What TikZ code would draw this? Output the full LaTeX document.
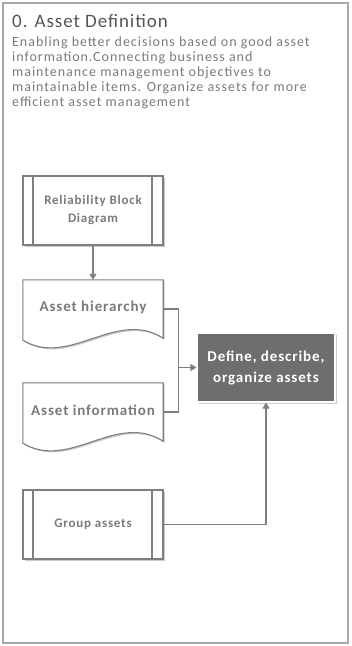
\documentclass[tikz,border=0pt]{standalone}
\usepackage{fontspec}
\setmainfont{Carlito}
\newfontfamily\headfont[LetterSpace=5]{Carlito}
\newfontfamily\bodyfont[LetterSpace=7]{Carlito}
\newfontfamily\boxfont[LetterSpace=6]{Carlito}
\usetikzlibrary{arrows.meta,shadows}
\definecolor{framegray}{HTML}{A8A8A8}
\definecolor{linegray}{HTML}{7F7F7F}
\definecolor{headgray}{HTML}{555555}
\definecolor{textgray}{HTML}{7A7A7A}
\definecolor{taskgray}{HTML}{6E6E6E}
\begin{document}
\begin{tikzpicture}[x=1pt, y=-1pt,
    boxshadow/.style={drop shadow={shadow xshift=1.5pt, shadow yshift=-1.5pt, opacity=0.35, fill=black!60}},
    box/.style={shape=rectangle, draw=linegray, line width=1.1pt, fill=white, inner sep=0,
                text=textgray, align=center, font=\boxfont\bfseries\fontsize{13}{18}\selectfont},
    subproc/.style={box, boxshadow, minimum width=140pt, minimum height=69pt,
                path picture={
                  \draw[linegray, line width=1.1pt] ([xshift=10pt]path picture bounding box.north west) -- ([xshift=10pt]path picture bounding box.south west);
                  \draw[linegray, line width=1.1pt] ([xshift=-11pt]path picture bounding box.north east) -- ([xshift=-11pt]path picture bounding box.south east);}},
    docbox/.style={shape=rectangle, inner sep=0, minimum width=140pt, minimum height=58pt,
                text=textgray, align=center, font=\boxfont\bfseries\fontsize{15}{18}\selectfont},
    taskbox/.style={box, boxshadow, fill=taskgray, draw=white, text=white, minimum width=138pt, minimum height=69pt,
                font=\boxfont\bfseries\fontsize{15}{21}\selectfont},
    conn/.style={draw=linegray, line width=1.1pt},
    arrow/.style={conn, -{Triangle[length=6pt, width=7pt]}}]
  \useasboundingbox (0,0) rectangle (352,646);
  \draw[framegray, line width=2pt] (3,3) rectangle (348,643);

  % heading and description
  \node[anchor=west, text=headgray, font=\headfont\fontsize{19}{22}\selectfont, inner sep=0] (title) at (12,21) {0. Asset Definition};
  \node[anchor=north west, text=textgray, align=left, inner sep=0, font=\bodyfont\fontsize{14}{14.8}\selectfont] (desc) at (12,37)
    {Enabling better decisions based on good asset\\
     information.Connecting business and\\
     maintenance management objectives to\\
     maintainable items. Organize assets for more\\
     efficient asset management};

  % process boxes
  \node[subproc] (rbd) at (93,210.5) {Reliability Block\\Diagram};
  \node[docbox] (ah) at (93,309) {Asset hierarchy};
  \node[docbox] (ai) at (93,412) {Asset information};
  \node[taskbox] (def) at (266,367.5) {Define, describe,\\organize assets};
  \node[subproc] (ga) at (93,524.5) {Group assets};

  % document outlines with wavy bottom
  \foreach \d in {ah,ai}{
    \draw[conn, fill=white, boxshadow] (\d.north west) -- (\d.north east) -- (\d.south east)
      .. controls ([xshift=-47pt,yshift=30pt]\d.south east) and ([xshift=47pt,yshift=-30pt]\d.south west) .. ([yshift=-2pt]\d.south west) -- cycle;
  }
  \node[docbox] at ([yshift=1.5pt]ah) {Asset hierarchy};
  \node[docbox] at ([yshift=1.5pt]ai) {Asset information};

  % connectors
  \draw[arrow] (rbd.south) -- (ah.north);
  \draw[conn] (ah.east) -- ++(15,0) coordinate (jt) -- (jt |- ai.east) -- (ai.east);
  \draw[arrow] (jt |- def.west) -- (def.west);
  \draw[arrow] (ga.east) -| (def.south);
\end{tikzpicture}
\end{document}
